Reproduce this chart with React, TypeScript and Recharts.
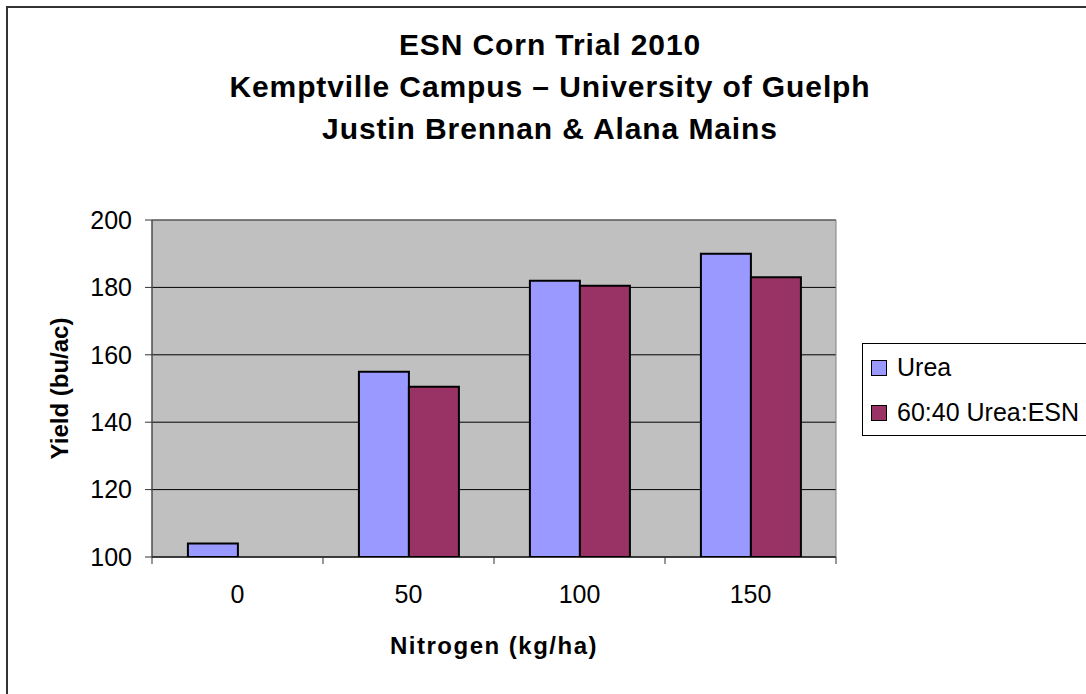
import React from "react"
import { BarChart, Bar, XAxis, YAxis, CartesianGrid, Legend, ReferenceArea } from "recharts"

const nitrogen = ["0", "50", "100", "150"]
const urea = [104, 155, 182, 190]
const ureaEsn = [null, 150.5, 180.5, 183]
const yTicks = [100, 120, 140, 160, 180, 200]
const seriesNames = ["Urea", "60:40 Urea:ESN"]
const titleLines = [
  "ESN Corn Trial 2010",
  "Kemptville Campus – University of Guelph",
  "Justin Brennan & Alana Mains",
]

const data = nitrogen.map((n, i) => ({ n, urea: urea[i], esn: ureaEsn[i] }))

const FONT = '"Liberation Sans", Arial, sans-serif'

function XTick(props: any) {
  const { x, y, payload, index, width, visibleTicksCount } = props
  const half = payload?.offset ?? width / visibleTicksCount / 2
  return (
    <g>
      {index === 0 && <line x1={x - half} x2={x - half} y1={y} y2={y + 7} stroke="#333" />}
      <line x1={x + half} x2={x + half} y1={y} y2={y + 7} stroke="#333" />
      <text x={x} y={y + 46} textAnchor="middle" fill="#000" fontSize={25} fontFamily={FONT}>
        {payload.value}
      </text>
    </g>
  )
}

function LegendBox(props: any) {
  const items = [...(props.payload || [])].sort(
    (a: any, b: any) => seriesNames.indexOf(a.value) - seriesNames.indexOf(b.value)
  )
  return (
    <div
      style={{
        border: "1px solid #000",
        background: "#fff",
        width: 230,
        paddingTop: 1,
        fontFamily: FONT,
        fontSize: 25,
        color: "#000",
      }}
    >
      {items.map((p: any) => (
        <div key={p.value} style={{ display: "flex", alignItems: "center", height: 45 }}>
          <span
            style={{
              display: "inline-block",
              width: 14,
              height: 14,
              marginLeft: 8,
              marginRight: 10,
              background: p.color,
              border: "1px solid #000",
            }}
          />
          <span>{p.value}</span>
        </div>
      ))}
    </div>
  )
}

export default function App() {
  return (
    <div style={{ position: "absolute", left: 0, top: 0, width: 1086, height: 694, background: "#fff", overflow: "hidden" }}>
      <div
        style={{
          position: "absolute",
          left: 6,
          top: 6,
          width: 1100,
          height: 700,
          borderLeft: "2px solid #333",
          borderTop: "2px solid #333",
        }}
      />
      <div
        style={{
          position: "absolute",
          left: 14,
          top: 24,
          width: 1072,
          textAlign: "center",
          fontFamily: FONT,
          fontWeight: "bold",
          fontSize: 30,
          lineHeight: "42px",
          letterSpacing: 0.9,
          color: "#000",
        }}
      >
        {titleLines.map((t) => (
          <div key={t}>{t}</div>
        ))}
      </div>
      <div style={{ position: "absolute", left: 0, top: 0 }}>
        <BarChart
          width={1086}
          height={694}
          data={data}
          margin={{ top: 220, right: 250, left: 72, bottom: 77 }}
          barCategoryGap="21%"
          barGap={0}
        >
          <CartesianGrid vertical={false} stroke="#000" fill="#c0c0c0" />
          <ReferenceArea y1={100} y2={200} fill="none" stroke="#808080" />
          <XAxis
            dataKey="n"
            height={60}
            tickSize={0}
            tickMargin={0}
            tickLine={false}
            axisLine={{ stroke: "#000" }}
            tick={<XTick />}
            label={{
              content: (p: any) => {
                const vb = p.viewBox
                return (
                  <text
                    x={vb.x + vb.width / 2}
                    y={vb.y + 97}
                    textAnchor="middle"
                    fontFamily={FONT}
                    fontWeight="bold"
                    fontSize={24}
                    letterSpacing={1.5}
                    fill="#000"
                  >
                    Nitrogen (kg/ha)
                  </text>
                )
              },
            }}
          />
          <YAxis
            width={80}
            domain={[100, 200]}
            ticks={yTicks}
            allowDataOverflow
            tickSize={7}
            tickMargin={13}
            axisLine={{ stroke: "#333" }}
            tickLine={{ stroke: "#333" }}
            tick={{ fill: "#000", fontSize: 25, fontFamily: FONT }}
            label={{
              content: (p: any) => {
                const vb = p.viewBox
                const cx = vb.x - 4
                const cy = vb.y + vb.height / 2
                return (
                  <text
                    x={cx}
                    y={cy}
                    transform={`rotate(-90 ${cx} ${cy})`}
                    textAnchor="middle"
                    fontFamily={FONT}
                    fontWeight="bold"
                    fontSize={24}
                    fill="#000"
                  >
                    Yield (bu/ac)
                  </text>
                )
              },
            }}
          />
          <Legend
            layout="vertical"
            align="center"
            verticalAlign="middle"
            content={<LegendBox />}
            wrapperStyle={{ left: 862, top: 343, width: 232, height: 92 }}
          />
          <Bar dataKey="urea" name="Urea" fill="#9999ff" stroke="#000" strokeWidth={2} isAnimationActive={false} />
          <Bar dataKey="esn" name="60:40 Urea:ESN" fill="#993366" stroke="#000" strokeWidth={2} isAnimationActive={false} />
        </BarChart>
      </div>
    </div>
  )
}
